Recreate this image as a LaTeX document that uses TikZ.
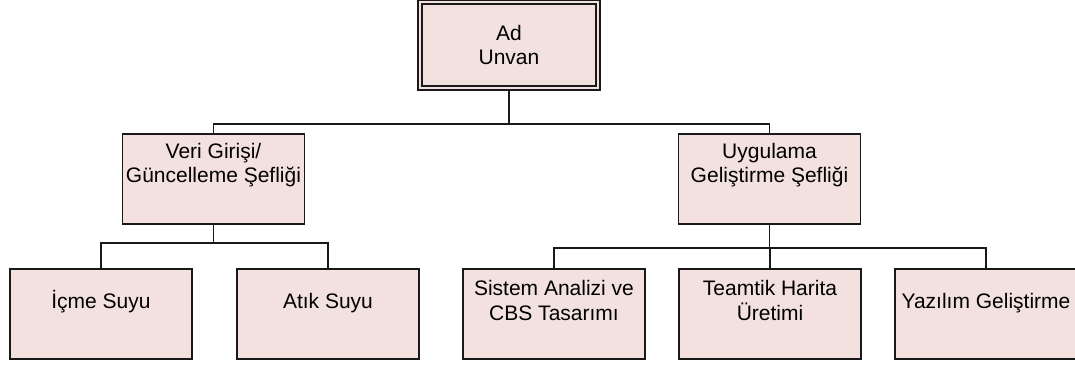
\documentclass[tikz,border=0pt]{standalone}
\usepackage{fontspec}
\setmainfont{Liberation Sans}
\usepackage{xcolor}
\usetikzlibrary{calc,backgrounds}
\definecolor{boxpink}{RGB}{243,225,223}

\begin{document}
\begin{tikzpicture}[x=1pt,y=-1pt,
 box/.style={draw=black!90,fill=boxpink,line width=1.8pt,minimum width=182pt,minimum height=90pt,inner sep=0pt},
 txt/.style={align=center,font=\fontsize{21}{24.5}\selectfont,inner sep=0pt,anchor=base},
 conn/.style={line width=1.8pt,draw=black!90}]
\useasboundingbox (0,0) rectangle (1075,365);
% head
\node[box,double=boxpink,double distance=2.4pt,line width=1.5pt,minimum width=178pt,minimum height=86pt,txt,anchor=center] (ad) at (509,45) {Ad\\Unvan};
% chiefs (base = last line)
\node[box] (veri) at (213.5,179) {};
\node[txt] (veritxt) at ($(veri.north)+(0,49.5)$) {Veri Girişi/\\Güncelleme Şefliği};
\node[box] (uyg) at (769.5,179) {};
\node[txt] (uygtxt) at ($(uyg.north)+(0,49.5)$) {Uygulama\\Geliştirme Şefliği};
% units
\node[box] (icme) at (101,314) {};
\node[txt] (icmetxt) at ($(icme.north)+(0,40)$) {İçme Suyu};
\node[box] (atik) at (328,314) {};
\node[txt] (atiktxt) at ($(atik.north)+(0,40)$) {Atık Suyu};
\node[box] (sistem) at (554,314) {};
\node[txt] (sistemtxt) at ($(sistem.north)+(0,52)$) {Sistem Analizi ve\\CBS Tasarımı};
\node[box] (harita) at (770,314) {};
\node[txt] (haritatxt) at ($(harita.north)+(0,52)$) {Teamtik Harita\\Üretimi};
\node[box] (yazilim) at (986,314) {};
\node[txt] (yazilimtxt) at ($(yazilim.north)+(0,40)$) {Yazılım Geliştirme};
% connectors
\begin{scope}[on background layer]
\coordinate (topbus) at ($(ad.south)+(0,35)$);
\coordinate (leftbus) at ($(veri.south)+(0,18)$);
\coordinate (rightbus) at ($(uyg.south)+(0,23)$);
\draw[conn] (ad.south) -- (topbus);
\draw[conn] (veri.north) |- (topbus) -| (uyg.north);
\draw[conn] (veri.south) -- (leftbus);
\draw[conn] (icme.north) |- (leftbus) -| (atik.north);
\draw[conn] (uyg.south) -- (rightbus);
\draw[conn] (sistem.north) |- (rightbus) -| (yazilim.north);
\draw[conn] (harita.north) -- (harita.north |- rightbus);
\end{scope}
\end{tikzpicture}
\end{document}
